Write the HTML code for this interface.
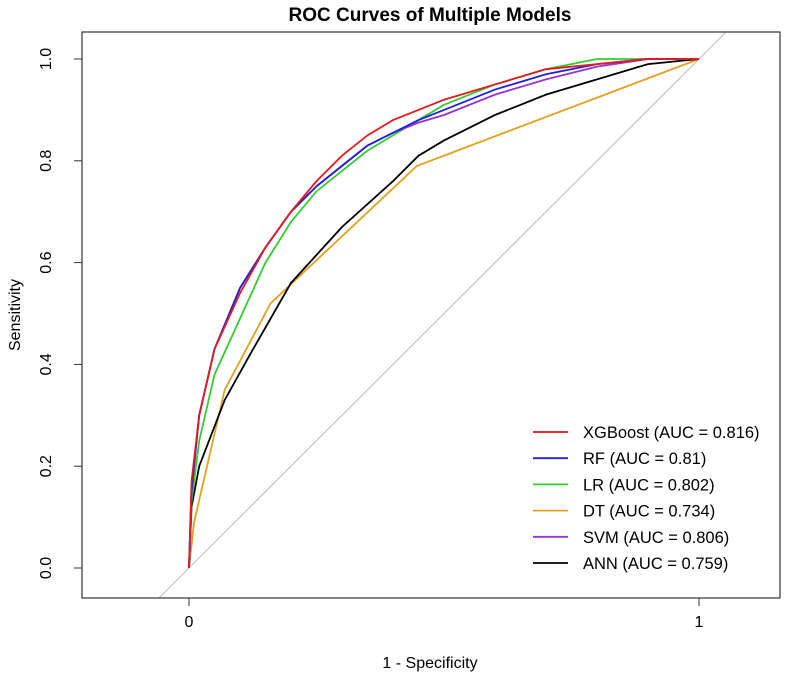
<!DOCTYPE html>
<html><head><meta charset="utf-8"><style>
body{margin:0;background:#fff}
svg text{font-family:"Liberation Sans",Arial,sans-serif}
</style></head><body>
<svg id="c" width="810" height="676" xmlns="http://www.w3.org/2000/svg">
<text x="430" y="21" text-anchor="middle" font-size="19" font-weight="bold">ROC Curves of Multiple Models</text>
<defs><clipPath id="clip"><rect x="82" y="32" width="698" height="566"/></clipPath></defs>
<g id="plot" clip-path="url(#clip)"></g>
<rect x="82" y="32" width="698" height="566" fill="none" stroke="#333" stroke-width="1.2"/>
<g id="axes"></g>
<text x="430" y="668" text-anchor="middle" font-size="16">1 - Specificity</text>
<text transform="translate(20,315) rotate(-90)" text-anchor="middle" font-size="16">Sensitivity</text>
<g id="legend"></g>
</svg>
<script>
const names=["XGBoost (AUC = 0.816)","RF (AUC = 0.81)","LR (AUC = 0.802)","DT (AUC = 0.734)","SVM (AUC = 0.806)","ANN (AUC = 0.759)"];
const colors=["#e41a1c","#1f1fe0","#33cc33","#e6a020","#9933cc","#000000"];
const fprXGB=[0,0.005,0.02,0.05,0.1,0.15,0.2,0.25,0.3,0.35,0.4,0.45,0.5,0.6,0.7,0.8,0.9,1];
const tprXGB=[0,0.17,0.3,0.43,0.54,0.63,0.70,0.76,0.81,0.85,0.88,0.9,0.92,0.95,0.98,0.99,1,1];
const fprRF=[0,0.005,0.02,0.05,0.1,0.15,0.2,0.25,0.3,0.35,0.4,0.45,0.5,0.6,0.7,0.8,0.9,1];
const tprRF=[0,0.15,0.3,0.43,0.55,0.63,0.70,0.75,0.79,0.83,0.855,0.88,0.90,0.94,0.97,0.99,1,1];
const fprLR=[0,0.005,0.02,0.05,0.1,0.15,0.2,0.25,0.3,0.35,0.4,0.45,0.5,0.6,0.7,0.8,0.9,1];
const tprLR=[0,0.13,0.25,0.38,0.49,0.6,0.68,0.74,0.78,0.82,0.85,0.88,0.91,0.95,0.98,1,1,1];
const fprDT=[0,0.01,0.07,0.16,0.447,1];
const tprDT=[0,0.09,0.35,0.52,0.79,1];
const fprSVM=[0,0.005,0.02,0.05,0.1,0.15,0.2,0.25,0.3,0.35,0.4,0.45,0.5,0.6,0.7,0.8,0.9,1];
const tprSVM=[0,0.16,0.3,0.43,0.55,0.63,0.70,0.75,0.79,0.83,0.855,0.875,0.89,0.93,0.96,0.985,1,1];
const fprANN=[0,0.005,0.02,0.07,0.12,0.2,0.3,0.4,0.45,0.5,0.6,0.7,0.8,0.9,1];
const tprANN=[0,0.12,0.2,0.33,0.42,0.56,0.67,0.76,0.81,0.84,0.89,0.93,0.96,0.99,1];
const yTicks=[0,0.2,0.4,0.6,0.8,1.0];
const xTicks=[0,1];
const xTickLabels=["0","1"];
const X=v=>189+v*510, Y=v=>568-v*509;
const NS="http://www.w3.org/2000/svg";
const plot=document.getElementById('plot'),axes=document.getElementById('axes'),leg=document.getElementById('legend');
function mk(t,a,p){const e=document.createElementNS(NS,t);for(const k in a)e.setAttribute(k,a[k]);p.appendChild(e);return e;}
const diag=mk('line',{x1:X(-0.1),y1:Y(-0.1),x2:X(1.1),y2:Y(1.1),stroke:'#bbb','stroke-width':1},plot);


const series=[[fprXGB,tprXGB],[fprRF,tprRF],[fprLR,tprLR],[fprDT,tprDT],[fprSVM,tprSVM],[fprANN,tprANN]];
const order=[3,5,2,4,1,0];
order.forEach(i=>{const [f,t]=series[i];
 const p=mk('polyline',{points:f.map((v,j)=>X(v)+','+Y(t[j])).join(' '),fill:'none',stroke:colors[i],'stroke-width':1.8},plot);
 
 });
yTicks.forEach(v=>{mk('line',{x1:74,x2:82,y1:Y(v),y2:Y(v),stroke:'#333'},axes);
 const t=mk('text',{transform:`translate(51,${Y(v)}) rotate(-90)`,'text-anchor':'middle','font-size':16},axes);t.textContent=v.toFixed(1);
 
 });
xTicks.forEach((v,i)=>{mk('line',{x1:X(v),x2:X(v),y1:598,y2:606,stroke:'#333'},axes);
 const t=mk('text',{x:X(v),y:627,'text-anchor':'middle','font-size':16},axes);t.textContent=xTickLabels[i];
 
 });
names.forEach((n,i)=>{const y=432+i*26.2;
 const g=mk('g',{},leg);
 
 
 mk('line',{x1:533,x2:568,y1:y,y2:y,stroke:colors[i],'stroke-width':1.8},g);
 const t=mk('text',{x:583,y:y+6,'font-size':16.5},g);t.textContent=n;});
</script>
</body></html>
